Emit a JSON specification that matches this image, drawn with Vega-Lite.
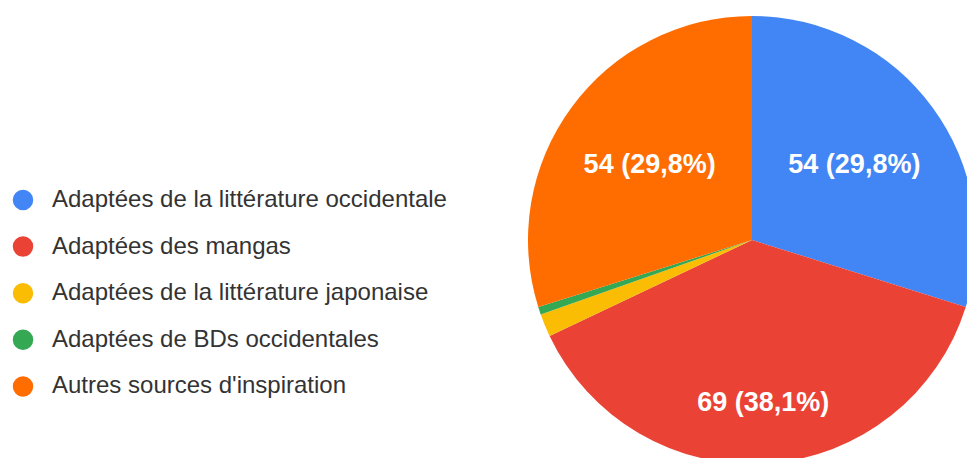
{
  "$schema": "https://vega.github.io/schema/vega-lite/v6.json",
  "width": 448,
  "height": 448,
  "autosize": {"type": "none"},
  "padding": {"left": 528, "top": 16, "right": 0, "bottom": 0},
  "background": "white",
  "config": {"view": {"stroke": null}},
  "data": {
    "values": [
      {"idx": 1, "categorie": "Adaptées de la littérature occidentale", "value": 54, "label": "54 (29,8%)"},
      {"idx": 2, "categorie": "Adaptées des mangas", "value": 69, "label": "69 (38,1%)"},
      {"idx": 3, "categorie": "Adaptées de la littérature japonaise", "value": 3, "label": "3 (1,7%)"},
      {"idx": 4, "categorie": "Adaptées de BDs occidentales", "value": 1, "label": "1 (0,6%)"},
      {"idx": 5, "categorie": "Autres sources d'inspiration", "value": 54, "label": "54 (29,8%)"}
    ]
  },
  "encoding": {
    "theta": {"field": "value", "type": "quantitative", "stack": true},
    "order": {"field": "idx", "type": "quantitative"},
    "detail": {"field": "categorie", "type": "nominal"}
  },
  "layer": [
    {
      "mark": {"type": "arc", "outerRadius": 224},
      "encoding": {
        "color": {
          "field": "categorie",
          "type": "nominal",
          "scale": {
            "domain": ["Adaptées de la littérature occidentale", "Adaptées des mangas", "Adaptées de la littérature japonaise", "Adaptées de BDs occidentales", "Autres sources d'inspiration"],
            "range": ["#4285F4", "#EA4335", "#FBBC04", "#34A853", "#FF6D01"]
          },
          "legend": {
            "orient": "none",
            "legendX": -517,
            "legendY": 172,
            "title": null,
            "symbolType": "circle",
            "symbolSize": 420,
            "symbolStrokeWidth": 0,
            "symbolOpacity": 1,
            "labelFont": "Liberation Sans",
            "labelFontSize": 24,
            "labelColor": "#333333",
            "labelOffset": 17,
            "rowPadding": 22.6,
            "padding": 0,
            "labelLimit": 600
          }
        }
      }
    },
    {
      "mark": {"type": "text", "radius": 127, "font": "Liberation Sans", "fontWeight": "bold", "fontSize": 27, "align": "center", "baseline": "middle"},
      "encoding": {
        "color": {"value": "white"},
        "text": {"condition": {"test": "datum.value > 10 && datum.value < 60", "field": "label"}, "value": ""}
      }
    },
    {
      "mark": {"type": "text", "radius": 163, "font": "Liberation Sans", "fontWeight": "bold", "fontSize": 27, "align": "center", "baseline": "middle"},
      "encoding": {
        "color": {"value": "white"},
        "text": {"condition": {"test": "datum.value >= 60", "field": "label"}, "value": ""}
      }
    }
  ]
}
